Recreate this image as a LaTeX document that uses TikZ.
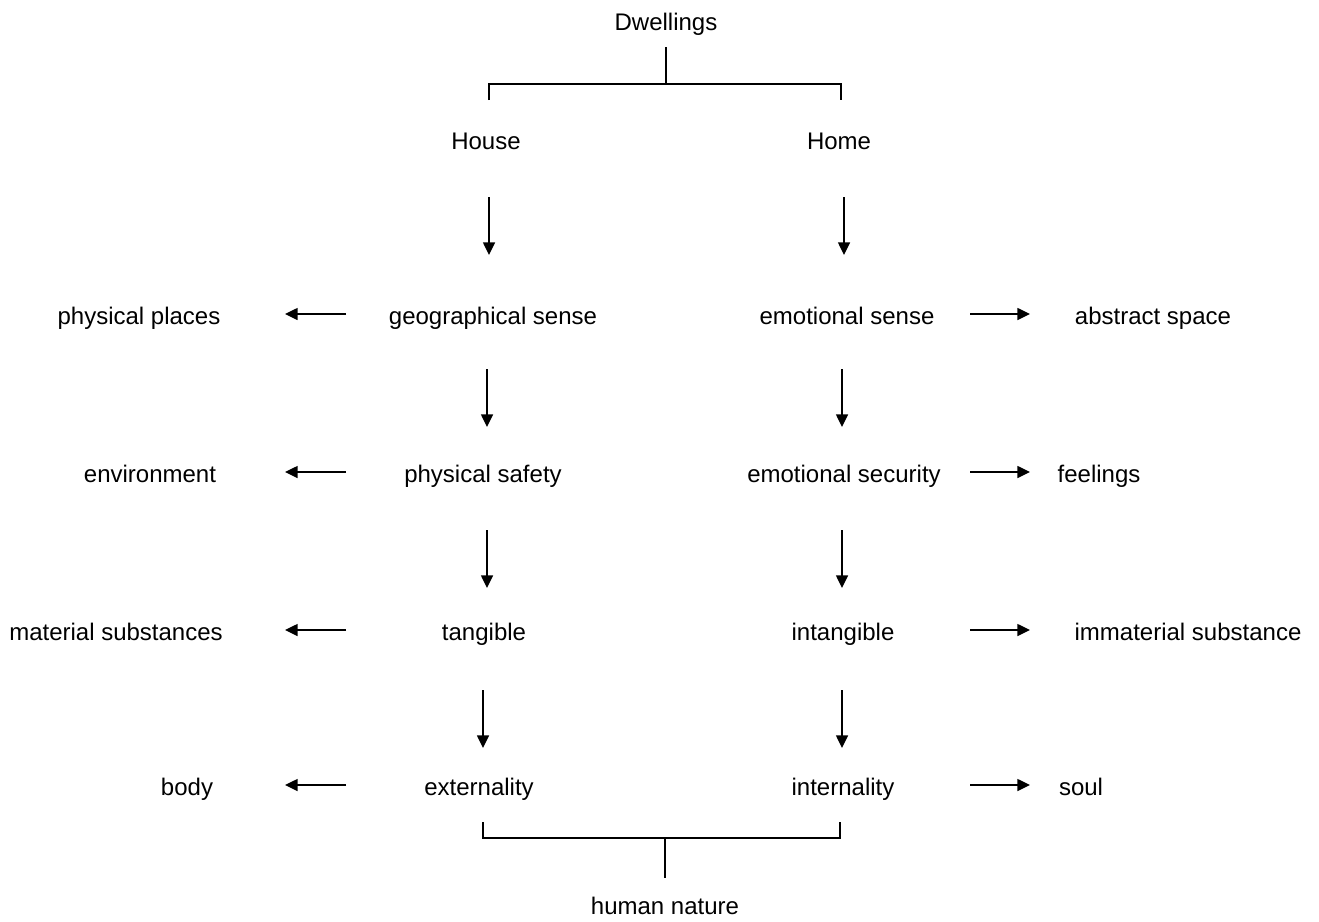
\documentclass[tikz,border=0pt]{standalone}
\usepackage{fontspec}
\setmainfont{Liberation Sans}
\usetikzlibrary{arrows.meta}
\begin{document}
\begin{tikzpicture}[x=0.75pt,y=-0.75pt,
  lbl/.style={inner sep=0pt, yshift=-1.5pt, text height=13pt, text depth=4pt, font=\fontsize{18}{22}\selectfont},
  arr/.style={line width=1.1pt, -{Triangle[length=9.5pt,width=9pt]}},
  brk/.style={line width=0.9pt}]
\useasboundingbox (0,0) rectangle (1319,921);
% nodes
\node[lbl] (dw) at (666,22) {Dwellings};
\node[lbl] (house) at (486,141) {House};
\node[lbl] (home) at (839,141) {Home};
\node[lbl] (pp) at (139,316) {physical places};
\node[lbl] (geo) at (493,316) {geographical sense};
\node[lbl] (emo) at (847,316) {emotional sense};
\node[lbl] (abs) at (1153,316) {abstract space};
\node[lbl] (env) at (150,474) {environment};
\node[lbl] (saf) at (483,474) {physical safety};
\node[lbl] (sec) at (844,474) {emotional security};
\node[lbl] (feel) at (1099,474) {feelings};
\node[lbl] (mat) at (116,632) {material substances};
\node[lbl] (tan) at (484,632) {tangible};
\node[lbl] (intan) at (843,632) {intangible};
\node[lbl] (imm) at (1188,632) {immaterial substance};
\node[lbl] (body) at (187,787) {body};
\node[lbl] (ext) at (479,787) {externality};
\node[lbl] (int) at (843,787) {internality};
\node[lbl] (soul) at (1081,787) {soul};
\node[lbl] (hn) at (665,906) {human nature};
% helper coordinates
\coordinate (L1) at (346,0);
\coordinate (R1) at (970,0);
\coordinate (tb) at (0,84);
\coordinate (tl) at (489,100);
\coordinate (tr) at (841,100);
\coordinate (bb) at (0,838);
\coordinate (bl) at (483,822);
\coordinate (br) at (840,822);
\coordinate (hb) at (665,878);
% top bracket
\draw[brk] (dw.south |- 0,47) -- (dw.south |- tb);
\draw[brk] (tl) -- (tl |- tb) -- (tr |- tb) -- (tr);
% bottom bracket
\draw[brk] (bl) -- (bl |- bb) -- (br |- bb) -- (br);
\draw[brk] (hb |- bb) -- (hb);
% vertical arrows
\draw[arr] (489,197) -- (489,255);
\draw[arr] (844,197) -- (844,255);
\draw[arr] (487,369) -- (487,427);
\draw[arr] (842,369) -- (842,427);
\draw[arr] (487,530) -- (487,588);
\draw[arr] (842,530) -- (842,588);
\draw[arr] (483,690) -- (483,748);
\draw[arr] (842,690) -- (842,748);
% horizontal arrows
\draw[arr] (geo.center -| L1) ++(0,-4) -- ++(-61,0);
\draw[arr] (saf.center -| L1) ++(0,-4) -- ++(-61,0);
\draw[arr] (tan.center -| L1) ++(0,-4) -- ++(-61,0);
\draw[arr] (ext.center -| L1) ++(0,-4) -- ++(-61,0);
\draw[arr] (emo.center -| R1) ++(0,-4) -- ++(60,0);
\draw[arr] (sec.center -| R1) ++(0,-4) -- ++(60,0);
\draw[arr] (intan.center -| R1) ++(0,-4) -- ++(60,0);
\draw[arr] (int.center -| R1) ++(0,-4) -- ++(60,0);
\end{tikzpicture}
\end{document}
